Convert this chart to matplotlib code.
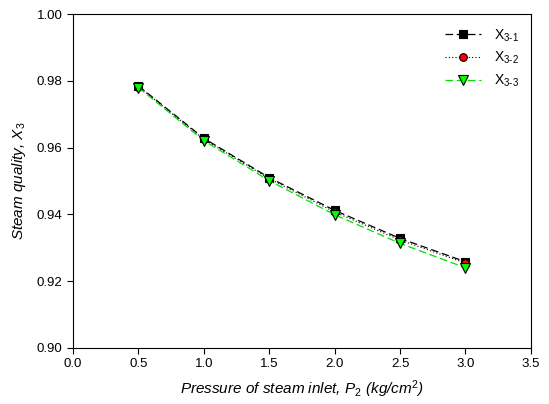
import matplotlib
matplotlib.use("Agg")
import matplotlib.pyplot as plt

plt.rcParams["font.family"] = ["Liberation Sans", "DejaVu Sans"]
plt.rcParams["mathtext.fontset"] = "custom"
plt.rcParams["mathtext.rm"] = "Liberation Sans"
plt.rcParams["mathtext.it"] = "Liberation Sans:italic"

pressure = [0.5, 1.0, 1.5, 2.0, 2.5, 3.0]
x3_1 = [0.9785, 0.9628, 0.9510, 0.9412, 0.9328, 0.9258]
x3_2 = [0.9783, 0.9625, 0.9507, 0.9407, 0.9323, 0.9254]
x3_3 = [0.9780, 0.9621, 0.9501, 0.9399, 0.9313, 0.9240]
labels = ["X$_{3\\text{-}1}$", "X$_{3\\text{-}2}$", "X$_{3\\text{-}3}$"]


def main():
    fig = plt.figure(figsize=(5.49, 4.04), dpi=100)
    ax = fig.add_axes([0.133, 0.139, 0.834, 0.826])

    ax.plot(pressure, x3_1, color="black", linestyle=(0, (6, 3)), linewidth=0.9,
            marker="s", markersize=5.5, markerfacecolor="black",
            markeredgecolor="black", markeredgewidth=0.8, label=labels[0])
    ax.plot(pressure, x3_2, color="black", linestyle=(0, (1, 2)), linewidth=0.8,
            marker="o", markersize=5.5, markerfacecolor="red",
            markeredgecolor="black", markeredgewidth=0.8, label=labels[1])
    ax.plot(pressure, x3_3, color="#00e000", linestyle=(0, (6, 3)), linewidth=0.9,
            marker="v", markersize=6.5, markerfacecolor="#00ff00",
            markeredgecolor="black", markeredgewidth=0.8, label=labels[2])

    ax.set_xlim(0, 3.5)
    ax.set_ylim(0.90, 1.00)
    ax.set_xticks([0.0, 0.5, 1.0, 1.5, 2.0, 2.5, 3.0, 3.5])
    ax.set_yticks([0.90, 0.92, 0.94, 0.96, 0.98, 1.00])
    ax.set_xticklabels(["%.1f" % v for v in ax.get_xticks()])
    ax.set_yticklabels(["%.2f" % v for v in ax.get_yticks()])
    ax.tick_params(direction="out", length=4, width=0.8, labelsize=9.5,
                   top=False, right=False)
    for s in ax.spines.values():
        s.set_linewidth(0.8)

    ax.set_xlabel("Pressure of steam inlet, P$_2$ (kg/cm$^2$)", fontsize=11,
                  style="italic", labelpad=6)
    ax.set_ylabel("Steam quality, X$_3$", fontsize=11, style="italic",
                  labelpad=6)

    ax.legend(loc="upper right", frameon=False, fontsize=10,
              handlelength=2.6, handletextpad=0.9, labelspacing=0.45,
              borderaxespad=0.3, bbox_to_anchor=(0.995, 0.99))

    plt.savefig("out.png", dpi=100)
    plt.close()


if __name__ == "__main__":
    main()
